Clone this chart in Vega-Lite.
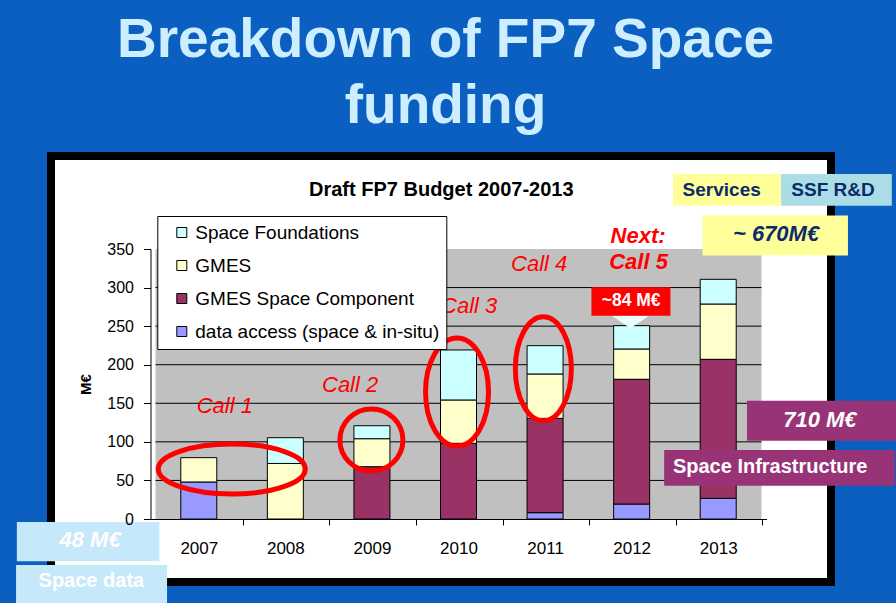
{
  "$schema": "https://vega.github.io/schema/vega-lite/v6.json",
  "width": 780,
  "height": 426,
  "autosize": {"type": "none"},
  "padding": {"left": 51, "top": 156, "right": 65, "bottom": 21},
  "background": "#0a5fc0",
  "config": {"view": {"fill": "#ffffff", "stroke": "#000000", "strokeWidth": 8}, "font": "Liberation Sans"},
  "title": {
    "text": ["Breakdown of FP7 Space", "funding"],
    "font": "Liberation Sans", "fontSize": 55, "fontWeight": "bold", "color": "#cdeeff",
    "anchor": "middle", "frame": "group", "baseline": "alphabetic", "lineHeight": 66, "offset": 94, "dx": 4.5, "dy": 116
  },
  "datasets": {
    "budget": [
      {"year": 2007, "series": "data access (space & in-situ)", "value": 48},
      {"year": 2007, "series": "GMES", "value": 31.5},
      {"year": 2008, "series": "GMES", "value": 72},
      {"year": 2008, "series": "Space Foundations", "value": 33.4},
      {"year": 2009, "series": "GMES Space Component", "value": 67.8},
      {"year": 2009, "series": "GMES", "value": 36.3},
      {"year": 2009, "series": "Space Foundations", "value": 16.8},
      {"year": 2010, "series": "GMES Space Component", "value": 98.1},
      {"year": 2010, "series": "GMES", "value": 56.2},
      {"year": 2010, "series": "Space Foundations", "value": 64.8},
      {"year": 2011, "series": "data access (space & in-situ)", "value": 8.2},
      {"year": 2011, "series": "GMES Space Component", "value": 122.3},
      {"year": 2011, "series": "GMES", "value": 57.5},
      {"year": 2011, "series": "Space Foundations", "value": 36.7},
      {"year": 2012, "series": "data access (space & in-situ)", "value": 19.4},
      {"year": 2012, "series": "GMES Space Component", "value": 161.7},
      {"year": 2012, "series": "GMES", "value": 39.3},
      {"year": 2012, "series": "Space Foundations", "value": 30.2},
      {"year": 2013, "series": "data access (space & in-situ)", "value": 26.8},
      {"year": 2013, "series": "GMES Space Component", "value": 180.2},
      {"year": 2013, "series": "GMES", "value": 71.7},
      {"year": 2013, "series": "Space Foundations", "value": 32}
    ],
    "seriesOrder": [
      {"series": "data access (space & in-situ)", "rank": 1},
      {"series": "GMES Space Component", "rank": 2},
      {"series": "GMES", "rank": 3},
      {"series": "Space Foundations", "rank": 4}
    ],
    "grid": [{"g": 50}, {"g": 100}, {"g": 150}, {"g": 200}, {"g": 250}, {"g": 300}],
    "ellipses": [
      {"id": "c1", "x": 2007.381, "y": 64.81},
      {"id": "c2", "x": 2008.994, "y": 102.41},
      {"id": "c3", "x": 2009.983, "y": 164.63},
      {"id": "c4", "x": 2010.980, "y": 194.70}
    ],
    "notes": [
      {"label": "Call 1", "grp": "call", "x": 2007.301, "y": 137.86},
      {"label": "Call 2", "grp": "call", "x": 2008.748, "y": 165.02},
      {"label": "Call 3", "grp": "call", "x": 2010.123, "y": 266.65},
      {"label": "Call 4", "grp": "call", "x": 2010.932, "y": 321.87},
      {"label": "Next:", "grp": "next", "x": 2012.074, "y": 357.39},
      {"label": "Call 5", "grp": "next", "x": 2012.080, "y": 323.69},
      {"label": "Draft FP7 Budget 2007-2013", "grp": "title", "x": 2009.801, "y": 418.70}
    ],
    "boxes": [
      {"id": "services", "label": "Services", "grp": "nav", "x": 2013.040, "y": 426.36},
      {"id": "ssf", "label": "SSF R&D", "grp": "nav", "x": 2014.326, "y": 426.36},
      {"id": "m670", "label": "~ 670M€", "grp": "navI", "x": 2013.668, "y": 369.19},
      {"id": "m710", "label": "710 M€", "grp": "whI", "x": 2014.174, "y": 128.98},
      {"id": "si", "label": "Space Infrastructure", "grp": "wh", "x": 2013.600, "y": 67.28},
      {"id": "m48", "label": "48 M€", "grp": "whI", "x": 2005.744, "y": -27.22},
      {"id": "sd", "label": "Space data", "grp": "wh", "x": 2005.759, "y": -80.50},
      {"id": "m84", "label": "~84 M€", "grp": "wh17", "x": 2011.994, "y": 282.33},
      {"id": "arrow", "label": "", "grp": "none", "x": 2011.994, "y": 282.33}
    ]
  },
  "layer": [
    {
      "data": {"values": [{}]},
      "mark": {"type": "rect", "color": "#c0c0c0"},
      "encoding": {
        "x": {"datum": 2006.5, "type": "quantitative", "scale": {"domain": [2006.5, 2013.5], "range": [99.5, 715.5], "nice": false, "zero": false}},
        "x2": {"datum": 2013.5},
        "y": {"datum": 0, "type": "quantitative", "scale": {"domain": [0, 350], "range": [363, 93], "nice": false, "zero": false}},
        "y2": {"datum": 350}
      }
    },
    {
      "data": {"name": "grid"},
      "mark": {"type": "rule", "color": "#000000", "strokeWidth": 1},
      "encoding": {
        "x": {"datum": 2006.5, "type": "quantitative"},
        "x2": {"datum": 2013.5},
        "y": {"field": "g", "type": "quantitative"}
      }
    },
    {
      "data": {"name": "budget"},
      "transform": [{"lookup": "series", "from": {"data": {"name": "seriesOrder"}, "key": "series", "fields": ["rank"]}}],
      "mark": {"type": "bar", "width": 36, "orient": "vertical", "stroke": "#000000", "strokeWidth": 1},
      "encoding": {
        "x": {
          "field": "year", "type": "quantitative",
          "axis": {
            "values": [2007, 2008, 2009, 2010, 2011, 2012, 2013], "format": "d", "offset": -63, "grid": false, "zindex": 1,
            "domainColor": "#000000", "domainWidth": 1, "tickColor": "#000000", "tickSize": 6, "tickOffset": 44, "labelOffset": -44,
            "labelFontSize": 17, "labelFont": "Liberation Sans", "labelColor": "#000000", "labelPadding": 15,
            "labelFlush": false, "labelOverlap": false, "labelBound": false, "title": null
          }
        },
        "y": {
          "field": "value", "type": "quantitative", "stack": "zero",
          "axis": {
            "values": [0, 50, 100, 150, 200, 250, 300, 350], "offset": -99.5, "grid": false, "zindex": 1,
            "domainColor": "#000000", "tickColor": "#000000", "tickSize": 7,
            "labelFontSize": 16, "labelFont": "Liberation Sans", "labelColor": "#000000", "labelPadding": 10, "labelFlush": false,
            "title": "M€", "titleFont": "Liberation Sans", "titleFontSize": 15, "titleFontWeight": "bold", "titleColor": "#000000", "titlePadding": 13
          }
        },
        "order": {"field": "rank", "type": "quantitative", "sort": "ascending"},
        "color": {
          "field": "series", "type": "nominal",
          "scale": {
            "domain": ["Space Foundations", "GMES", "GMES Space Component", "data access (space & in-situ)"],
            "range": ["#ccffff", "#ffffcc", "#993366", "#9999ff"]
          },
          "legend": {
            "orient": "none", "legendX": 106.3, "legendY": 60, "title": null, "zindex": 0,
            "fillColor": "#ffffff", "strokeColor": "#000000", "padding": 7,
            "symbolType": "square", "symbolSize": 100, "symbolStrokeColor": "#000000", "symbolStrokeWidth": 1, "symbolOffset": 8, "symbolOpacity": 1,
            "labelFont": "Liberation Sans", "labelFontSize": 19, "labelColor": "#000000", "labelOffset": 4, "rowPadding": 13, "labelLimit": 400
          }
        }
      }
    },
    {
      "data": {"name": "ellipses"},
      "mark": {"type": "point", "filled": false, "size": 4, "strokeWidth": 5, "color": "#ff0000", "opacity": 1},
      "encoding": {
        "x": {"field": "x", "type": "quantitative"},
        "y": {"field": "y", "type": "quantitative"},
        "shape": {
          "field": "id", "type": "nominal", "legend": null,
          "scale": {
            "domain": ["c1", "c2", "c3", "c4"],
            "range": [
              "M-73.5,0A73.5,25,0,1,0,73.5,0A73.5,25,0,1,0,-73.5,0Z",
              "M-31.5,0A31.5,31,0,1,0,31.5,0A31.5,31,0,1,0,-31.5,0Z",
              "M-31.5,0A31.5,54,0,1,0,31.5,0A31.5,54,0,1,0,-31.5,0Z",
              "M-28,0A28,52,0,1,0,28,0A28,52,0,1,0,-28,0Z"
            ]
          }
        }
      }
    },
    {
      "data": {"name": "notes"},
      "transform": [{"filter": "datum.grp == 'call'"}],
      "mark": {"type": "text", "font": "Liberation Sans", "fontSize": 22, "fontStyle": "italic", "color": "#ff0000", "align": "center", "baseline": "alphabetic"},
      "encoding": {
        "x": {"field": "x", "type": "quantitative"},
        "y": {"field": "y", "type": "quantitative"},
        "text": {"field": "label"}
      }
    },
    {
      "data": {"name": "notes"},
      "transform": [{"filter": "datum.grp == 'next'"}],
      "mark": {"type": "text", "font": "Liberation Sans", "fontSize": 22, "fontStyle": "italic", "fontWeight": "bold", "color": "#ff0000", "align": "center", "baseline": "alphabetic"},
      "encoding": {
        "x": {"field": "x", "type": "quantitative"},
        "y": {"field": "y", "type": "quantitative"},
        "text": {"field": "label"}
      }
    },
    {
      "data": {"name": "notes"},
      "transform": [{"filter": "datum.grp == 'title'"}],
      "mark": {"type": "text", "font": "Liberation Sans", "fontSize": 20, "fontWeight": "bold", "color": "#000000", "align": "center", "baseline": "alphabetic"},
      "encoding": {
        "x": {"field": "x", "type": "quantitative"},
        "y": {"field": "y", "type": "quantitative"},
        "text": {"field": "label"}
      }
    },
    {
      "data": {"name": "boxes"},
      "mark": {"type": "point", "filled": true, "size": 4, "opacity": 1},
      "encoding": {
        "x": {"field": "x", "type": "quantitative"},
        "y": {"field": "y", "type": "quantitative"},
        "shape": {
          "field": "id", "type": "nominal", "legend": null,
          "scale": {
            "domain": ["services", "ssf", "m670", "m710", "si", "m48", "sd", "m84", "arrow"],
            "range": [
              "M-48.7,-16.1H59V15.6H-48.7Z",
              "M-51.9,-16.1H58.8V15.6H-51.9Z",
              "M-73.5,-18.7H71.9V21.3H-73.5Z",
              "M-72.8,-18.7H76.2V21.3H-72.8Z",
              "M-106,-17.1H124.7V18.6H-106Z",
              "M-73.2,-18H69.3V21.3H-73.2Z",
              "M-75.3,-16.1H75.7V21.9H-75.3Z",
              "M-39.7,-13.9H39.3V14.5H-39.7Z",
              "M-19,14.8L17.7,14.8L-0.7,27.1Z"
            ]
          }
        },
        "fill": {
          "field": "id", "type": "nominal", "legend": null,
          "scale": {
            "domain": ["services", "ssf", "m670", "m710", "si", "m48", "sd", "m84", "arrow"],
            "range": ["#ffff99", "#aadde6", "#ffff99", "#993377", "#993377", "#c5e9fb", "#c5e9fb", "#ff0000", "#eaffff"]
          }
        },
        "stroke": {
          "field": "id", "type": "nominal", "legend": null,
          "scale": {
            "domain": ["services", "ssf", "m670", "m710", "si", "m48", "sd", "m84", "arrow"],
            "range": ["#ffffff", "#ffffff", "#ffffff", "#ffffff", "#ffffff", "#ffffff", "#ffffff", "#ffffff", "#ffffff"]
          }
        },
        "strokeWidth": {
          "field": "id", "type": "ordinal", "legend": null,
          "scale": {
            "domain": ["services", "ssf", "m670", "m710", "si", "m48", "sd", "m84", "arrow"],
            "range": [0, 0, 4, 4, 1.5, 4, 1.5, 1.5, 1]
          }
        }
      }
    },
    {
      "data": {"name": "boxes"},
      "transform": [{"filter": "datum.grp == 'nav'"}],
      "mark": {"type": "text", "font": "Liberation Sans", "fontSize": 19, "fontWeight": "bold", "color": "#0d2b6b", "align": "center", "baseline": "middle"},
      "encoding": {
        "x": {"field": "x", "type": "quantitative"},
        "y": {"field": "y", "type": "quantitative"},
        "text": {"field": "label"}
      }
    },
    {
      "data": {"name": "boxes"},
      "transform": [{"filter": "datum.grp == 'navI'"}],
      "mark": {"type": "text", "font": "Liberation Sans", "fontSize": 22, "fontWeight": "bold", "fontStyle": "italic", "color": "#0d2b6b", "align": "center", "baseline": "middle"},
      "encoding": {
        "x": {"field": "x", "type": "quantitative"},
        "y": {"field": "y", "type": "quantitative"},
        "text": {"field": "label"}
      }
    },
    {
      "data": {"name": "boxes"},
      "transform": [{"filter": "datum.grp == 'whI'"}],
      "mark": {"type": "text", "font": "Liberation Sans", "fontSize": 22, "fontWeight": "bold", "fontStyle": "italic", "color": "#ffffff", "align": "center", "baseline": "middle"},
      "encoding": {
        "x": {"field": "x", "type": "quantitative"},
        "y": {"field": "y", "type": "quantitative"},
        "text": {"field": "label"}
      }
    },
    {
      "data": {"name": "boxes"},
      "transform": [{"filter": "datum.grp == 'wh'"}],
      "mark": {"type": "text", "font": "Liberation Sans", "fontSize": 20, "fontWeight": "bold", "color": "#ffffff", "align": "center", "baseline": "middle"},
      "encoding": {
        "x": {"field": "x", "type": "quantitative"},
        "y": {"field": "y", "type": "quantitative"},
        "text": {"field": "label"}
      }
    },
    {
      "data": {"name": "boxes"},
      "transform": [{"filter": "datum.grp == 'wh17'"}],
      "mark": {"type": "text", "font": "Liberation Sans", "fontSize": 17.5, "fontWeight": "bold", "color": "#ffffff", "align": "center", "baseline": "middle"},
      "encoding": {
        "x": {"field": "x", "type": "quantitative"},
        "y": {"field": "y", "type": "quantitative"},
        "text": {"field": "label"}
      }
    }
  ],
  "resolve": {"scale": {"shape": "independent"}}
}
